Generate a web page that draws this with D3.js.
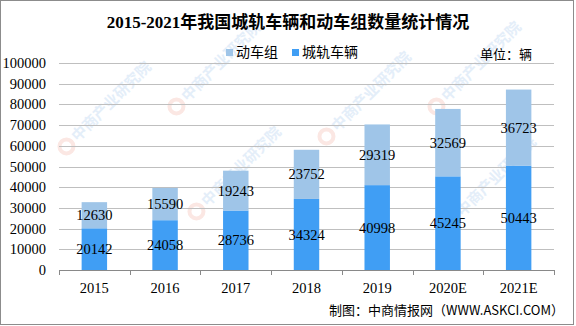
<!DOCTYPE html>
<html>
<head>
<meta charset="utf-8">
<script src="https://cdn.jsdelivr.net/npm/d3@7"></script>
<style>
  html, body { margin: 0; padding: 0; background: #fff; }
  svg { display: block; }
</style>
</head>
<body>
<svg id="chart" width="576" height="326"></svg>
<script>
// Years on the category axis
const years = ["2015", "2016", "2017", "2018", "2019", "2020E", "2021E"];
// Urban rail vehicles (bottom segment)
const metroCars = [20142, 24058, 28736, 34324, 40998, 45245, 50443];
// EMU sets (top segment)
const emuSets = [12630, 15590, 19243, 23752, 29319, 32569, 36723];
// Value axis ticks
const yTicks = [0, 10000, 20000, 30000, 40000, 50000, 60000, 70000, 80000, 90000, 100000];

const seriesNames = ["动车组", "城轨车辆"];
const colors = { metro: "#409ef4", emu: "#9fc5e8" };

const svg = d3.select("#chart");
const W = 576, H = 326;
const plot = { left: 59, right: 554, top: 63, bottom: 270 };

const numFont = "'Liberation Serif', 'DejaVu Serif', serif";
const cjkFont = "'Noto Sans CJK SC', 'Noto Sans', sans-serif";

svg.append("rect").attr("width", W).attr("height", H).attr("fill", "#fff");

// faint brand watermark
const wm = svg.append("g").attr("fill", "#e4eef9").attr("font-family", cjkFont)
  .attr("font-size", 15).attr("font-weight", "bold");
[[70, 150], [200, 215], [330, 140], [455, 225], [180, 110], [440, 110]]
  .forEach(([x, y]) => {
    const g = wm.append("g").attr("transform", `translate(${x},${y}) rotate(-45)`);
    g.append("circle").attr("cx", 0).attr("cy", -5).attr("r", 7).attr("fill", "none")
      .attr("stroke", "#fbe7e3").attr("stroke-width", 4);
    g.append("text").attr("x", 11).attr("y", 0).text("中商产业研究院");
  });

const x = d3.scaleBand().domain(years).range([plot.left, plot.right])
  .paddingInner(0.64).paddingOuter(0.32);
const y = d3.scaleLinear().domain([0, 100000]).range([plot.bottom, plot.top]);

// gridlines
svg.append("g").selectAll("line").data(yTicks.filter(d => d > 0)).join("line")
  .attr("x1", plot.left).attr("x2", plot.right)
  .attr("y1", d => Math.round(y(d)) + 0.5).attr("y2", d => Math.round(y(d)) + 0.5)
  .attr("stroke", "#bfbfbf").attr("stroke-width", 1);

// y tick labels
svg.append("g").selectAll("text").data(yTicks).join("text")
  .attr("x", 46).attr("y", d => y(d)).attr("dy", "0.35em")
  .attr("text-anchor", "end").attr("font-family", numFont).attr("font-size", 14.5)
  .attr("fill", "#000").text(d => d);

// stacked bars
const rows = years.map((yr, i) => ({ yr, metro: metroCars[i], emu: emuSets[i] }));
const bars = svg.append("g");
bars.selectAll("rect.metro").data(rows).join("rect").attr("class", "metro")
  .attr("x", d => x(d.yr)).attr("width", x.bandwidth())
  .attr("y", d => y(d.metro)).attr("height", d => y(0) - y(d.metro))
  .attr("fill", colors.metro);
bars.selectAll("rect.emu").data(rows).join("rect").attr("class", "emu")
  .attr("x", d => x(d.yr)).attr("width", x.bandwidth())
  .attr("y", d => y(d.metro + d.emu)).attr("height", d => y(d.metro) - y(d.metro + d.emu))
  .attr("fill", colors.emu);

// value labels
const lab = svg.append("g").attr("font-family", numFont).attr("font-size", 14.5)
  .attr("text-anchor", "middle").attr("fill", "#000");
rows.forEach(d => {
  const cx = x(d.yr) + x.bandwidth() / 2;
  lab.append("text").attr("x", cx).attr("y", (y(0) + y(d.metro)) / 2).attr("dy", "0.35em").text(d.metro);
  lab.append("text").attr("x", cx).attr("y", (y(d.metro) + y(d.metro + d.emu)) / 2).attr("dy", "0.35em").text(d.emu);
});

// x axis
const xAxis = svg.append("g");
xAxis.append("line").attr("x1", plot.left).attr("x2", plot.right)
  .attr("y1", plot.bottom + 0.5).attr("y2", plot.bottom + 0.5).attr("stroke", "#898989");
const bounds = years.map(d => x(d) - x.step() * x.paddingInner() / 2).concat([plot.right]);
xAxis.selectAll("line.tick").data(bounds).join("line").attr("class", "tick")
  .attr("x1", d => Math.round(d) + 0.5).attr("x2", d => Math.round(d) + 0.5)
  .attr("y1", plot.bottom).attr("y2", plot.bottom + 5).attr("stroke", "#898989");
xAxis.selectAll("text").data(years).join("text")
  .attr("x", d => x(d) + x.bandwidth() / 2).attr("y", 288).attr("dy", "0.35em")
  .attr("text-anchor", "middle").attr("font-family", numFont).attr("font-size", 14.5)
  .text(d => d);

// title
svg.append("text").attr("x", 288).attr("y", 22).attr("dy", "0.35em").attr("text-anchor", "middle")
  .attr("font-family", "'Liberation Serif', 'Noto Sans CJK SC', serif").attr("font-weight", "bold")
  .attr("font-size", 17).text("2015-2021年我国城轨车辆和动车组数量统计情况");

// legend
const legend = svg.append("g").attr("font-family", cjkFont).attr("font-size", 14);
[[226, seriesNames[0], colors.emu], [292, seriesNames[1], colors.metro]].forEach(([lx, name, c]) => {
  legend.append("rect").attr("x", lx).attr("y", 49).attr("width", 7).attr("height", 7).attr("fill", c);
  legend.append("text").attr("x", lx + 10).attr("y", 52.5).attr("dy", "0.35em").text(name);
});

// unit note
svg.append("text").attr("x", 480).attr("y", 54).attr("dy", "0.35em").attr("font-family", cjkFont)
  .attr("font-size", 13).text("单位：辆");

// source
svg.append("text").attr("x", 564).attr("y", 310.5).attr("dy", "0.35em").attr("text-anchor", "end")
  .attr("font-family", cjkFont).attr("font-size", 13).text("制图：中商情报网（WWW.ASKCI.COM）");

// frame
svg.append("rect").attr("x", 0.5).attr("y", 0.5).attr("width", 573).attr("height", 324)
  .attr("fill", "none").attr("stroke", "#8c8c8c");
</script>
</body>
</html>
